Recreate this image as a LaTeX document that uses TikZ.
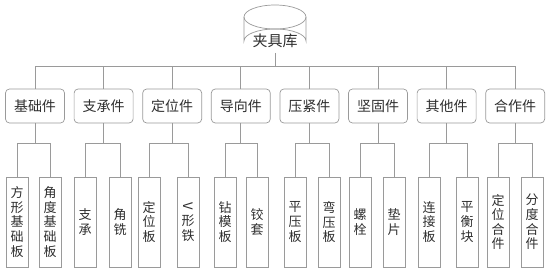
\documentclass[tikz,border=0pt]{standalone}
\usepackage{fontspec}
\setmainfont{Noto Sans CJK SC}
\usepackage{tikz}
\usetikzlibrary{positioning}
\definecolor{linegray}{HTML}{9A9A9A}
\definecolor{textgray}{HTML}{2E2E2E}

\begin{document}
\begin{tikzpicture}[
  x=1pt, y=-1pt,
  every node/.style={text=textgray},
  conn/.style={draw=linegray, line width=0.7pt},
  group/.style={draw=linegray, line width=0.7pt, rounded corners=4pt,
    minimum width=59pt, minimum height=34pt, inner sep=0pt,
    font=\fontsize{14}{16}\selectfont},
  leaf/.style={draw=linegray, line width=0.7pt, minimum width=22pt,
    minimum height=90pt, inner sep=0pt, align=center,
    font=\fontsize{13}{14.6}\selectfont}
]
\useasboundingbox (0,0) rectangle (550,275);

% root cylinder
\draw[linegray, line width=0.7pt, fill=white]
  (244,17) -- (244,41) arc[start angle=180, end angle=360, x radius=31, y radius=12]
  -- (306,17);
\draw[linegray, line width=0.7pt] (275,17) ellipse[x radius=31, y radius=12];
\node[font=\fontsize{15}{17}\selectfont] (root) at (275,41) {夹具库};
\coordinate (rootb) at (275,53);

% level 1
\node[group] (jc) at (35,106) {基础件};
\node[group] (zc) at (103.6,106) {支承件};
\node[group] (dw) at (172.2,106) {定位件};
\node[group] (dx) at (240.8,106) {导向件};
\node[group] (yj) at (309.4,106) {压紧件};
\node[group] (jg) at (378,106) {坚固件};
\node[group] (qt) at (446.6,106) {其他件};
\node[group] (zh) at (515.2,106) {合作件};

\draw[conn] (rootb) -- ++(0,13) coordinate (bus);
\foreach \n in {jc,zc,dw,dx,yj,jg,qt,zh}
  \draw[conn] (bus) -| (\n.north);

% level 2
\node[leaf] (fx) at (17,222) {方\\形\\基\\础\\板};
\node[leaf] (jd) at (50,222) {角\\度\\基\\础\\板};
\node[leaf] (zcl) at (85,222) {支\\承};
\node[leaf] (jt) at (120,222) {角\\铣};
\node[leaf] (dwb) at (149,222) {定\\位\\板};
\node[leaf] (vx) at (188,222) {\rotatebox[origin=c]{-90}{V}\\形\\铁};
\node[leaf] (zm) at (225,222) {钻\\模\\板};
\node[leaf] (jt2) at (257,222) {铰\\套};
\node[leaf] (py) at (295,222) {平\\压\\板};
\node[leaf] (wy) at (329,222) {弯\\压\\板};
\node[leaf] (ls) at (360,222) {螺\\栓};
\node[leaf] (dp) at (394,222) {垫\\片};
\node[leaf] (ljb) at (429,222) {连\\接\\板};
\node[leaf] (ph) at (467,222) {平\\衡\\块};
\node[leaf] (dwh) at (498,222) {定\\位\\合\\件};
\node[leaf] (fd) at (532,222) {分\\度\\合\\件};

\draw[conn] (jc.south) -- (jc.south |- 0,143) coordinate (jcb);
\draw[conn] (jcb) -| (fx.north);
\draw[conn] (jcb) -| (jd.north);
\draw[conn] (zc.south) -- (zc.south |- 0,143) coordinate (zcb);
\draw[conn] (zcb) -| (zcl.north);
\draw[conn] (zcb) -| (jt.north);
\draw[conn] (dw.south) -- (dw.south |- 0,143) coordinate (dwc);
\draw[conn] (dwc) -| (dwb.north);
\draw[conn] (dwc) -| (vx.north);
\draw[conn] (dx.south) -- (dx.south |- 0,143) coordinate (dxb);
\draw[conn] (dxb) -| (zm.north);
\draw[conn] (dxb) -| (jt2.north);
\draw[conn] (yj.south) -- (yj.south |- 0,143) coordinate (yjb);
\draw[conn] (yjb) -| (py.north);
\draw[conn] (yjb) -| (wy.north);
\draw[conn] (jg.south) -- (jg.south |- 0,143) coordinate (jgb);
\draw[conn] (jgb) -| (ls.north);
\draw[conn] (jgb) -| (dp.north);
\draw[conn] (qt.south) -- (qt.south |- 0,143) coordinate (qtb);
\draw[conn] (qtb) -| (ljb.north);
\draw[conn] (qtb) -| (ph.north);
\draw[conn] (zh.south) -- (zh.south |- 0,143) coordinate (zhb);
\draw[conn] (zhb) -| (dwh.north);
\draw[conn] (zhb) -| (fd.north);
\end{tikzpicture}
\end{document}
